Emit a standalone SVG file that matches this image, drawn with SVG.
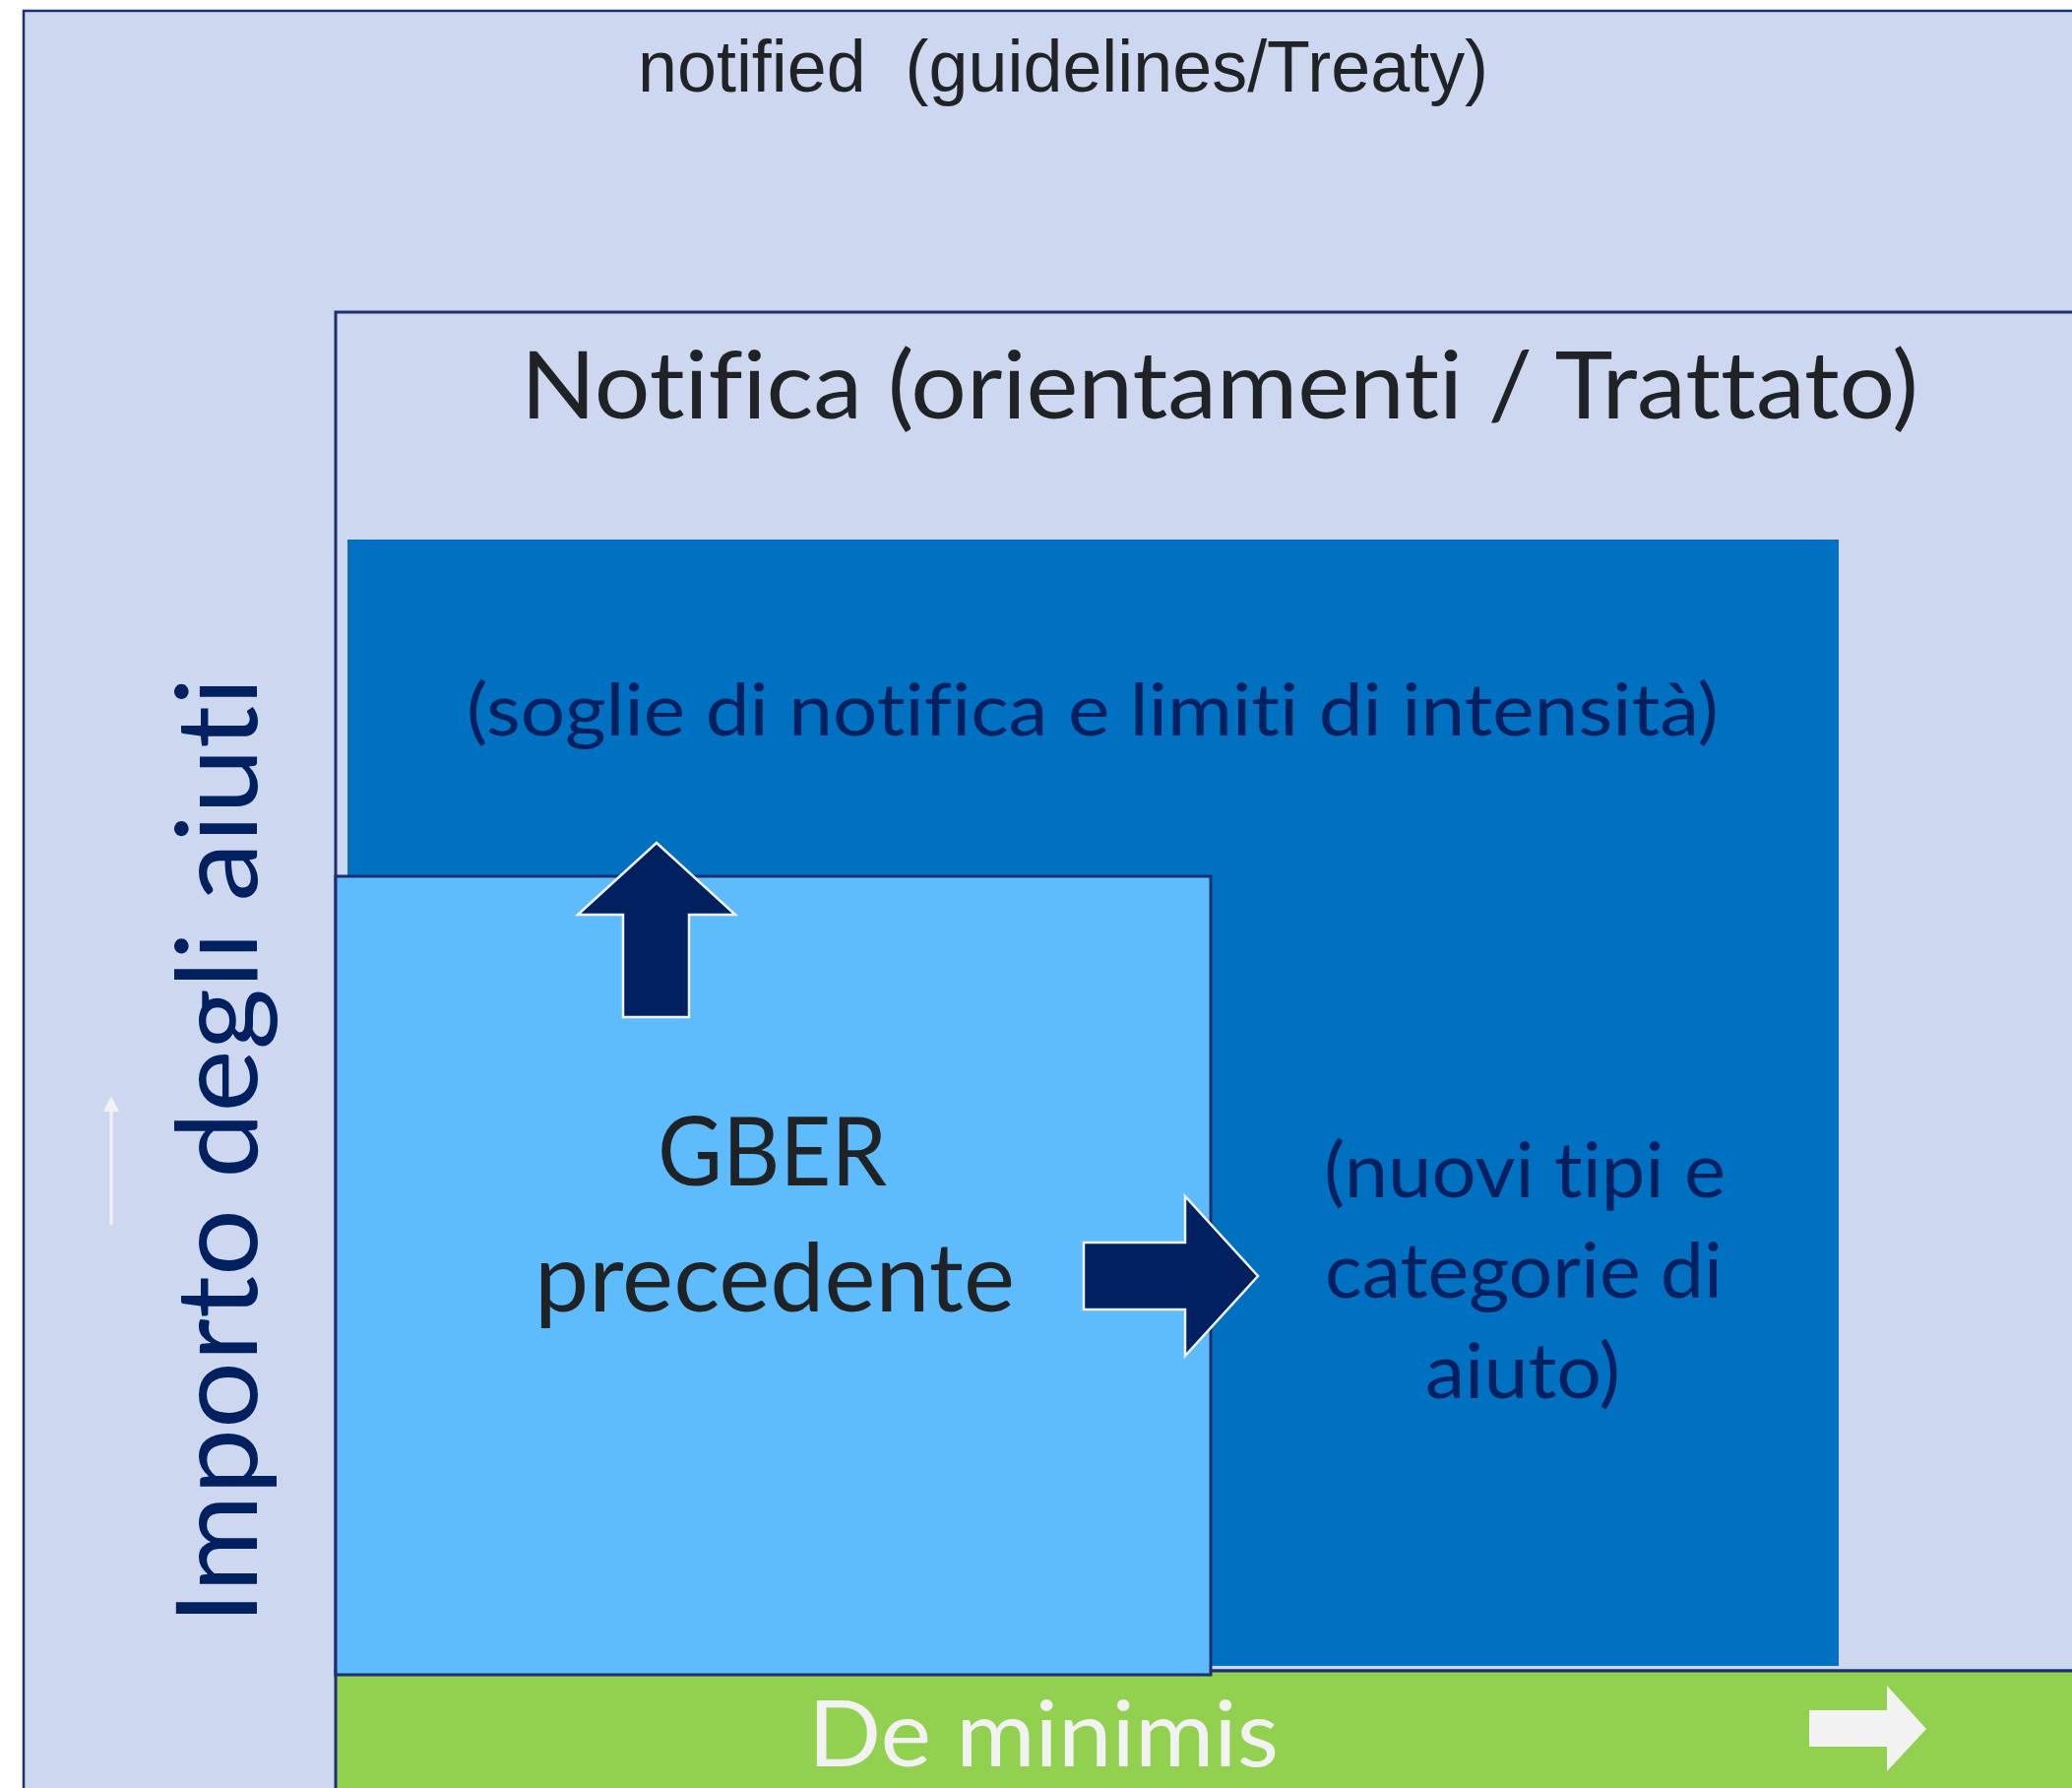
<svg xmlns="http://www.w3.org/2000/svg" width="2105" height="1816" viewBox="0 0 2105 1816">
<style>
  .frame { fill: #CDD7F0; stroke: #1D2F6F; }
  .cal { font-family: Lato, "Open Sans", "Noto Sans", sans-serif; font-variant-ligatures: none; font-feature-settings: "liga" 0, "clig" 0, "dlig" 0; }
  .dark { fill: #1F2326; }
  .navy { fill: #002060; }
  .blockarrow { fill: #002060; stroke: #F2F2F2; stroke-width: 2.5; stroke-linejoin: miter; }
</style>
<rect x="0" y="0" width="2105" height="1816" fill="#FFFFFF"/>

<g id="outer-notified">
  <rect class="frame" x="24" y="11" width="2200" height="2000" stroke-width="2.5"/>
  <text x="648" y="93" font-family="'Liberation Sans', Arial, sans-serif" font-size="75" class="dark" textLength="864" lengthAdjust="spacingAndGlyphs" style="white-space:pre">notified  (guidelines/Treaty)</text>
</g>

<g id="axis-label">
  <text class="cal navy" font-size="114" transform="translate(261,1650) rotate(-90)" textLength="962" lengthAdjust="spacingAndGlyphs">Importo degli aiuti</text>
  <line x1="113" y1="1244" x2="113" y2="1126" stroke="#F2F2F2" stroke-width="3"/>
  <polygon points="113,1113 105,1129 121,1129" fill="#F2F2F2"/>
</g>

<g id="notifica">
  <rect class="frame" x="341" y="317" width="1900" height="1380" stroke-width="3"/>
  <text class="cal dark" x="529" y="425" font-size="95" textLength="1420" lengthAdjust="spacingAndGlyphs">Notifica (orientamenti / Trattato)</text>
</g>

<g id="de-minimis">
  <rect x="341" y="1697" width="1900" height="300" fill="#92D050" stroke="#1D2F6F" stroke-width="3"/>
  <text class="cal" x="821" y="1794" font-size="93" fill="#F2F2F2" textLength="478" lengthAdjust="spacingAndGlyphs">De minimis</text>
  <polygon points="1838,1737 1917,1737 1917,1712 1957,1756 1917,1799 1917,1774 1838,1774" fill="#F2F2F2"/>
</g>

<g id="gber-nuovo">
  <rect x="353" y="548" width="1515" height="1144" fill="#0070C0"/>
  <text class="cal navy" x="474" y="747" font-size="73" textLength="1272" lengthAdjust="spacingAndGlyphs">(soglie di notifica e limiti di intensità)</text>
  <text class="cal navy" font-size="77" x="1345" y="1216" textLength="408" lengthAdjust="spacingAndGlyphs">(nuovi tipi e</text>
  <text class="cal navy" font-size="77" x="1346" y="1318" textLength="404" lengthAdjust="spacingAndGlyphs">categorie di</text>
  <text class="cal navy" font-size="77" x="1448" y="1420" textLength="198" lengthAdjust="spacingAndGlyphs">aiuto)</text>
</g>

<g id="gber-precedente">
  <rect x="341" y="890" width="889" height="811" fill="#5EBBFC" stroke="#1D2F6F" stroke-width="3"/>
  <text class="cal dark" font-size="96" x="668" y="1204" textLength="233" lengthAdjust="spacingAndGlyphs">GBER</text>
  <text class="cal dark" font-size="96" x="543" y="1332" textLength="488" lengthAdjust="spacingAndGlyphs">precedente</text>
</g>

<g id="connectors">
  <polygon class="blockarrow" points="667,856 747,929 700,929 700,1033 633,1033 633,929 587,929"/>
  <polygon class="blockarrow" points="1101,1262 1204,1262 1204,1215 1278,1296 1204,1377 1204,1330 1101,1330"/>
</g>
</svg>
